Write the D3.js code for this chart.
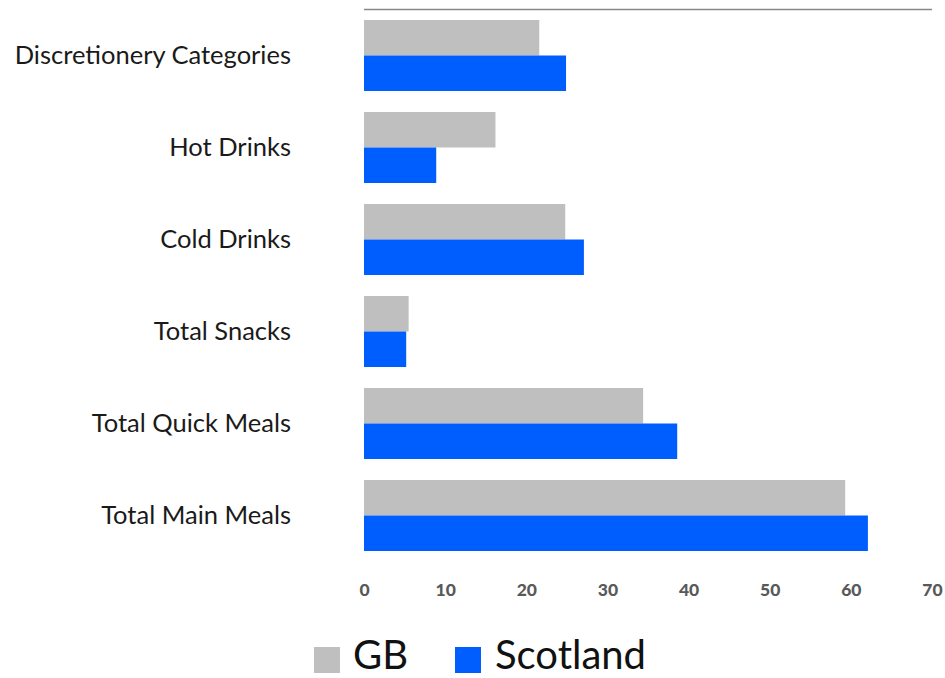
<!DOCTYPE html>
<html><head><meta charset="utf-8">
<script src="https://cdn.jsdelivr.net/npm/d3@7"></script>
<style>body{margin:0;background:#fff}svg{display:block}</style>
</head><body>
<svg id="c" width="945" height="678"></svg>
<script>
const categories = ["Discretionery Categories","Hot Drinks","Cold Drinks","Total Snacks","Total Quick Meals","Total Main Meals"];
const gbValues = [21.6, 16.2, 24.8, 5.5, 34.4, 59.3];
const scotlandValues = [24.9, 8.9, 27.1, 5.2, 38.6, 62.1];
const xTicks = [0,10,20,30,40,50,60,70];
const seriesNames = ["GB","Scotland"];
const colors = ["#BFBFBF","#005EFF"];

const svg = d3.select("#c");
const x = d3.scaleLinear().domain([0,70]).range([364,932]);
const y = d3.scaleBand().domain(categories).range([9.5,561.5]).paddingInner(0.228).paddingOuter(0.114);
const inner = d3.scaleBand().domain(seriesNames).range([0,y.bandwidth()]);

svg.append("line").attr("x1",x(0)).attr("x2",x(70)).attr("y1",9.5).attr("y2",9.5)
  .attr("stroke","#888").attr("stroke-width",1.3);

const series = [gbValues, scotlandValues];
series.forEach((vals,si)=>{
  svg.append("g").selectAll("rect").data(categories).join("rect")
    .attr("x",x(0)).attr("y",d=>y(d)+inner(seriesNames[si]))
    .attr("width",(d,i)=>x(vals[i])-x(0)).attr("height",inner.bandwidth())
    .attr("fill",colors[si]);
});

const xa = svg.append("g").attr("transform","translate(0,590)")
  .call(d3.axisBottom(x).tickValues(xTicks).tickSize(0).tickPadding(0));
xa.select(".domain").remove();
xa.selectAll("text").attr("font-family","Lato, 'Open Sans', sans-serif").attr("font-weight","900")
  .attr("font-size",17.5).attr("fill","#595959").attr("dy","0.35em");

const ya = svg.append("g").attr("transform","translate(291,0)")
  .call(d3.axisLeft(y).tickSize(0).tickPadding(0));
ya.select(".domain").remove();
ya.selectAll("text").attr("font-family","Lato, 'Open Sans', sans-serif")
  .attr("font-size",25.5).attr("fill","#1a1a1a").attr("dy","0.35em");

const leg = [{name:"GB",sx:314,tx:353},{name:"Scotland",sx:455,tx:495}];
leg.forEach((l,i)=>{
  svg.append("rect").attr("x",l.sx).attr("y",647).attr("width",26).attr("height",26).attr("fill",colors[i]);
  svg.append("text").attr("x",l.tx).attr("y",669).text(l.name)
    .attr("font-family","Lato, 'Open Sans', sans-serif").attr("font-size",40).attr("fill","#111");
});
</script>
</body></html>
